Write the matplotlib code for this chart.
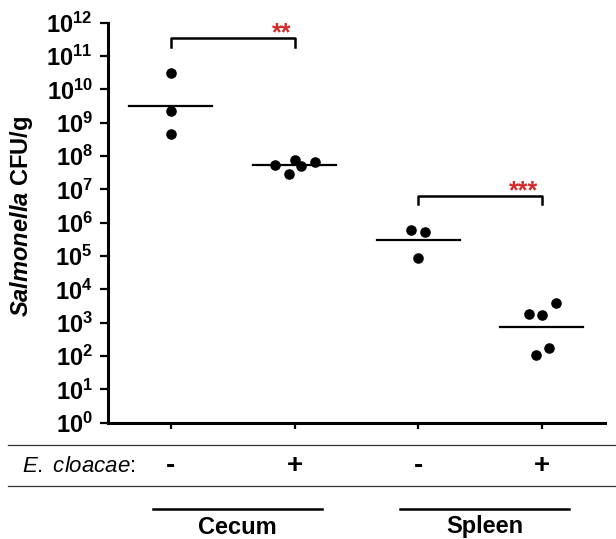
import matplotlib
matplotlib.use('Agg')
import matplotlib.pyplot as plt
import numpy as np
from matplotlib.transforms import blended_transform_factory
from matplotlib.lines import Line2D
from matplotlib.ticker import NullLocator

plt.rcParams['font.family'] = ['Liberation Sans', 'DejaVu Sans']
plt.rcParams['mathtext.fontset'] = 'custom'
plt.rcParams['mathtext.rm'] = 'Liberation Sans'
plt.rcParams['mathtext.bf'] = 'Liberation Sans:bold'
plt.rcParams['mathtext.it'] = 'Liberation Sans:italic'
plt.rcParams['mathtext.bfit'] = 'Liberation Sans:italic:bold'

# ---------------- data ----------------
tissues = ['Cecum', 'Spleen']
group_tissue = ['Cecum', 'Cecum', 'Spleen', 'Spleen']
e_cloacae = ['-', '+', '-', '+']

cecum_minus = [3.2e10, 2.2e9, 4.6e8]
cecum_plus = [5.4e7, 7.6e7, 2.9e7, 5.1e7, 6.6e7]
spleen_minus = [5.9e5, 5.4e5, 8.9e4]
spleen_plus = [1.8e3, 1.75e3, 4.0e3, 1.05e2, 1.7e2]

cecum_minus_jitter = [0.0, 0.0, 0.0]
cecum_plus_jitter = [-0.156, 0.006, -0.049, 0.054, 0.162]
spleen_minus_jitter = [-0.055, 0.053, 0.0]
spleen_plus_jitter = [-0.105, 0.002, 0.11, -0.051, 0.057]

groups = [cecum_minus, cecum_plus, spleen_minus, spleen_plus]
jitters = [cecum_minus_jitter, cecum_plus_jitter, spleen_minus_jitter, spleen_plus_jitter]

comparisons = [(0, 1, '**'), (2, 3, '***')]
ytick_exponents = list(range(0, 13))

# ---------------- figure ----------------
W, H = 616, 539
fig = plt.figure(figsize=(W / 100, H / 100), dpi=100)
ax = fig.add_axes([108 / W, 1 - 422.7 / H, 497 / W, 400 / H])

ax.set_yscale('log')
ax.set_ylim(1, 1e12)
ax.set_xlim(-0.509, 3.51)

for i, (vals, jit) in enumerate(zip(groups, jitters)):
    xs = np.array(jit) + i
    ax.plot(xs, vals, 'o', color='black', markersize=6.6, zorder=3, clip_on=False)
    gm = 10 ** np.mean(np.log10(vals))
    ax.plot([i - 0.336, i + 0.336], [gm, gm], color='black', lw=1.6, zorder=2)

for a, b, stars in comparisons:
    top = max(np.max(np.log10(groups[a])), np.max(np.log10(groups[b])))
    yb = 10 ** (top + 1.03)
    yl = 10 ** (top + 0.78)
    ax.plot([a, a, b, b], [yl, yb, yb, yl], color='black', lw=1.8, clip_on=False)
    ax.text(b - 0.03, yb * 10 ** (-0.07), stars, color='#d42a2a', ha='right', va='baseline',
            fontsize=18, fontweight='bold')

for s in ['top', 'right']:
    ax.spines[s].set_visible(False)
for s in ['left', 'bottom']:
    ax.spines[s].set_linewidth(2.2)

ax.set_yticks([10.0 ** e for e in ytick_exponents])
ax.set_yticklabels([r'$\mathbf{10^{%d}}$' % e for e in ytick_exponents], fontsize=17)
ax.yaxis.set_minor_locator(NullLocator())
ax.tick_params(axis='y', length=6, width=1.6, pad=5)
ax.set_xticks(range(len(groups)))
ax.set_xticklabels([])
ax.tick_params(axis='x', length=4.5, width=1.6)

ax.set_ylabel(r'$\mathbfit{Salmonella}$ CFU/g', fontsize=17, fontweight='bold')
ax.yaxis.set_label_coords(-0.147, 0.517)

# ---------------- annotation rows below ----------------
def fy(py):
    return 1 - py / H

fig.add_artist(Line2D([8 / W, 1], [fy(444.5), fy(444.5)], color='#333333', lw=0.9,
                      transform=fig.transFigure))
fig.add_artist(Line2D([8 / W, 1], [fy(486), fy(486)], color='#333333', lw=0.9,
                      transform=fig.transFigure))

fig.text(22 / W, fy(466), r'$\mathit{E.}$ $\mathit{cloacae}$:', fontsize=16, ha='left', va='center')

bt = blended_transform_factory(ax.transData, fig.transFigure)
for i, sign in enumerate(e_cloacae):
    fig.text(i, fy(466), sign, transform=bt, fontsize=20, fontweight='bold',
             ha='center', va='center')

for t in tissues:
    idx = [i for i, g in enumerate(group_tissue) if g == t]
    x0, x1 = min(idx) - 0.146, max(idx) + 0.22
    fig.add_artist(Line2D([x0, x1], [fy(508.5), fy(508.5)], color='black', lw=1.8, transform=bt))
    fig.text((x0 + x1) / 2, fy(527), t, transform=bt, fontsize=17, fontweight='bold',
             ha='center', va='center')

fig.savefig('out.png', dpi=100)
